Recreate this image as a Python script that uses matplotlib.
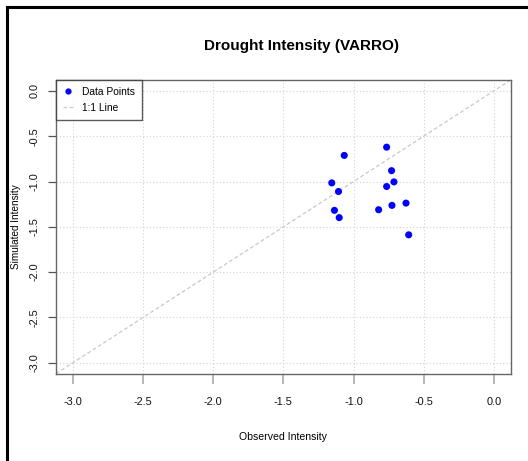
import matplotlib
matplotlib.use("Agg")
import matplotlib.pyplot as plt
from matplotlib.lines import Line2D
import numpy as np

plt.rcParams['font.family'] = ['Liberation Sans', 'DejaVu Sans']
plt.rcParams['axes.unicode_minus'] = False

observed = [-1.066, -0.764, -0.729, -0.712, -0.764, -1.155, -1.107, -1.136, -1.102, -0.821, -0.726, -0.626, -0.607]
simulated = [-0.712, -0.621, -0.880, -1.004, -1.055, -1.015, -1.110, -1.318, -1.398, -1.311, -1.263, -1.238, -1.588]
x_ticks = [-3.0, -2.5, -2.0, -1.5, -1.0, -0.5, 0.0]
y_ticks = [0.0, -0.5, -1.0, -1.5, -2.0, -2.5, -3.0]
title = "Drought Intensity (VARRO)"

fig = plt.figure(figsize=(5.28, 4.61), dpi=100)
ax = fig.add_axes([56/528, 1-373.7/461, (510.7-56)/528, (373.7-80)/461])

lo, hi = -3.0, 0.0
pad = 0.04*(hi-lo)
ax.set_xlim(lo-pad, hi+pad)
ax.set_ylim(lo-pad, hi+pad)

# grid
for t in x_ticks:
    ax.axvline(t, color='#d3d3d3', lw=0.8, ls=(0, (1, 2)), zorder=1)
for t in y_ticks:
    ax.axhline(t, color='#d3d3d3', lw=0.8, ls=(0, (1, 2)), zorder=1)

# 1:1 line
ax.plot([lo-pad, hi+pad], [lo-pad, hi+pad], color='#c8c8c8', lw=0.9, ls=(0, (3, 2)), zorder=2)

ax.scatter(observed, simulated, s=26, color='#0000ff', edgecolors='none', zorder=3)

ax.set_xticks(x_ticks)
ax.set_yticks(y_ticks)
ax.set_xticklabels([f"{t:.1f}" for t in x_ticks], fontsize=7.9)
ax.set_yticklabels([f"{t:.1f}" for t in y_ticks], rotation=90, va='center', fontsize=7.8)
ax.tick_params(axis='x', length=7, width=1.2, color='#aaaaaa', pad=10, labelcolor='#111111')
ax.tick_params(axis='y', length=6, width=0.9, color='#555555', pad=6, labelcolor='#111111')
for s in ax.spines.values():
    s.set_color('#666666')
    s.set_linewidth(1.0)

ax.set_xlabel("Observed Intensity", fontsize=7.6)
ax.xaxis.set_label_coords(0.5, -(437-373.7)/293.7, transform=ax.transAxes)
ax.xaxis.label.set_va('center')
ax.set_ylabel("Simulated Intensity", fontsize=7.2)
ax.yaxis.set_label_coords(-(56-16)/454.7, 0.5)
ax.yaxis.label.set_va('center')
fig.text(301/528, 1-46/461, title, ha='center', va='center', fontsize=11, fontweight='bold')

handles = [Line2D([], [], marker='o', ls='none', color='#0000ff', markersize=4.5, markeredgewidth=0),
           Line2D([], [], color='#c8c8c8', lw=0.9, ls=(0, (3, 2)))]
leg = ax.legend(handles, ["Data Points", "1:1 Line"], loc='upper left', bbox_to_anchor=(0, 1),
                fontsize=7.4, frameon=True, fancybox=False,
                borderaxespad=0, handlelength=1.0, handletextpad=0.9, borderpad=0.65,
                labelspacing=0.6)
leg.get_frame().set_edgecolor('#333333')
leg.get_frame().set_linewidth(1.0)

# outer black frame (left and top)
fig.add_artist(Line2D([7/528, 7/528], [0, 1-7/461], transform=fig.transFigure, color='black', lw=2.2))
fig.add_artist(Line2D([7/528, 1], [1-7/461, 1-7/461], transform=fig.transFigure, color='black', lw=2.2))

fig.savefig("out.png", dpi=100)
